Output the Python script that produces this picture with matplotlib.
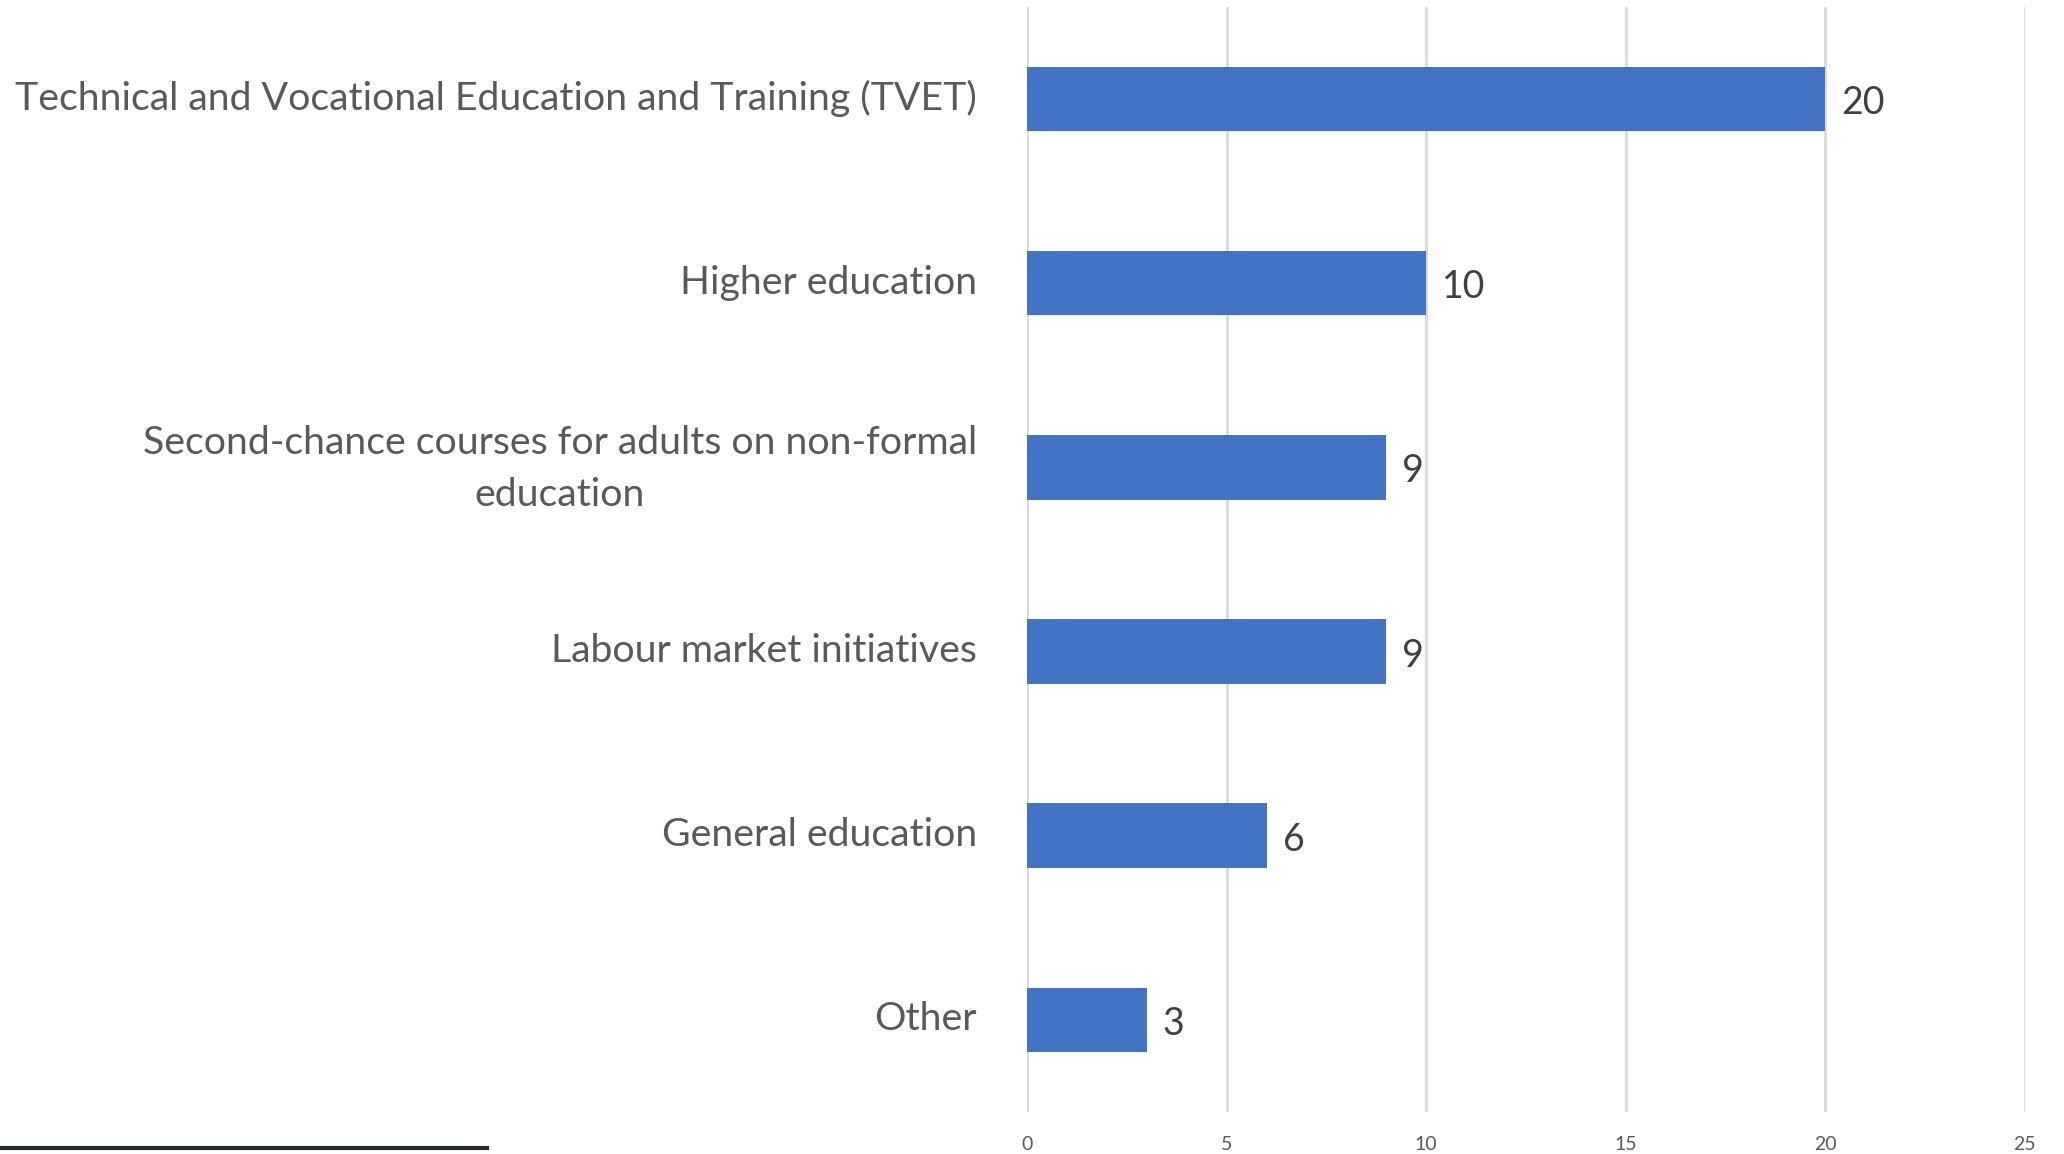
import matplotlib.pyplot as plt
from matplotlib.lines import Line2D
from matplotlib.transforms import ScaledTranslation

categories = [
    'Technical and Vocational Education and Training (TVET)',
    'Higher education',
    'Second-chance courses for adults on non-formal\neducation',
    'Labour market initiatives',
    'General education',
    'Other',
]
values = [20, 10, 9, 9, 6, 3]
x_ticks = [0, 5, 10, 15, 20, 25]

plt.rcParams['font.family'] = ['Lato', 'DejaVu Sans']

fig = plt.figure(figsize=(20.64, 11.54), dpi=100)
ax = fig.add_axes([0.4976, 0.0364, 0.4834, 0.9576])

pos = list(range(len(categories)))
ax.barh(pos, values, height=0.35, color='#4472C4', zorder=3)
ax.set_ylim(len(categories) - 0.5, -0.5)
ax.set_xlim(0, 25)

for p, v in zip(pos, values):
    ax.annotate(str(v), (v, p), xytext=(16, -4), textcoords='offset pixels',
                ha='left', va='center', fontsize=27, color='#404040')

ax.set_xticks(x_ticks)
ax.set_xticklabels([str(t) for t in x_ticks], fontsize=14, color='#595959')
ax.set_yticks(pos)
ax.set_yticklabels(categories, fontsize=28.3, color='#595959',
                   multialignment='center', linespacing=1.55)
ax.tick_params(axis='x', length=0, pad=17)
ax.tick_params(axis='y', length=0, pad=36)

# nudge the category labels up a little (two-line one a bit more)
for lbl in ax.get_yticklabels():
    dy = 10 if '\n' in lbl.get_text() else 4
    lbl.set_transform(lbl.get_transform() + ScaledTranslation(0, dy / 100, fig.dpi_scale_trans))

ax.grid(axis='x', color='#d9d9d9', linewidth=2, zorder=0)
for s in ax.spines.values():
    s.set_visible(False)

fig.add_artist(Line2D([0, 487 / 2064], [6 / 1154, 6 / 1154],
                      transform=fig.transFigure, color='#262a2e', linewidth=3))

fig.savefig('out.png', dpi=100)
